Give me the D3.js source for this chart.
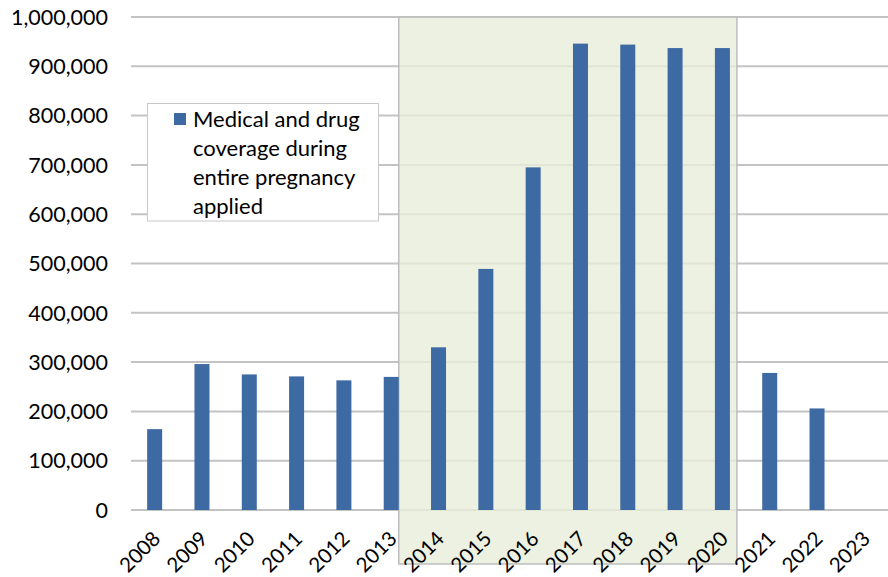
<!DOCTYPE html>
<html><head><meta charset="utf-8">
<script src="https://cdn.jsdelivr.net/npm/d3@7"></script>
<style>body{margin:0;background:#fff}svg{display:block}</style>
</head><body>
<svg id="c" width="888" height="577"></svg>
<script>
const years = ["2008","2009","2010","2011","2012","2013","2014","2015","2016","2017","2018","2019","2020","2021","2022","2023"];
const values = [164000,296000,275000,271000,263000,270000,330000,489000,695000,946000,944000,937000,937000,278000,206000,null];
const yTicks = [0,100000,200000,300000,400000,500000,600000,700000,800000,900000,1000000];
const seriesName = ["Medical and drug","coverage during","entire pregnancy","applied"];
const highlight = ["2014","2020"];

const svg = d3.select("#c");
const font = "Lato, 'Liberation Sans', Arial, sans-serif";
const x = d3.scaleBand().domain(years).range([131,888]).paddingInner(0.683).paddingOuter(0.3415);
const y = d3.scaleLinear().domain([0,1000000]).range([510,17]);
const blue = "#3d6aa2";

// gridlines
svg.append("g").selectAll("line").data(yTicks).join("line")
  .attr("x1",131).attr("x2",888).attr("y1",d=>y(d)).attr("y2",d=>y(d))
  .attr("stroke","#c3c3c3").attr("stroke-width",2);

// highlighted period
const hx0 = x(highlight[0]) - (x.step()-x.bandwidth());
const hx1 = x(highlight[1]) + x.bandwidth() + 7;
svg.append("rect").attr("x",hx0).attr("y",y(1000000)).attr("width",hx1-hx0).attr("height",564-y(1000000))
  .attr("fill","rgb(232,237,218)").attr("fill-opacity",0.8)
  .attr("stroke","#bdbdbd").attr("stroke-width",1.5);

// bars
svg.append("g").selectAll("rect").data(years.map((d,i)=>({y:d,v:values[i]})).filter(d=>d.v!=null)).join("rect")
  .attr("x",d=>x(d.y)).attr("width",x.bandwidth())
  .attr("y",d=>y(d.v)).attr("height",d=>y(0)-y(d.v))
  .attr("fill",blue);

// y axis labels
const fmt = d3.format(",");
svg.append("g").selectAll("text").data(yTicks).join("text")
  .attr("x",108).attr("y",d=>y(d)).attr("dy","0.36em")
  .attr("text-anchor","end").attr("font-family",font).attr("font-size",21.5).attr("fill","#000")
  .text(d=>fmt(d));

// x labels
svg.append("g").selectAll("text").data(years).join("text")
  .attr("transform",d=>`translate(${x(d)+x.bandwidth()/2+7},${540}) rotate(-45)`)
  .attr("text-anchor","end").attr("font-family",font).attr("font-size",20.5).attr("fill","#000")
  .text(d=>d);

// legend
const lg = svg.append("g");
lg.append("rect").attr("x",147.5).attr("y",103.5).attr("width",231).attr("height",117.5)
  .attr("fill","#fff").attr("stroke","#c8c8c8").attr("stroke-width",1);
lg.append("rect").attr("x",174).attr("y",113).attr("width",12).attr("height",12).attr("fill",blue);
lg.selectAll("text").data(seriesName).join("text")
  .attr("x",193).attr("y",(d,i)=>127+i*29)
  .attr("font-family",font).attr("font-size",22).attr("fill","#000")
  .text(d=>d);
</script>
</body></html>
